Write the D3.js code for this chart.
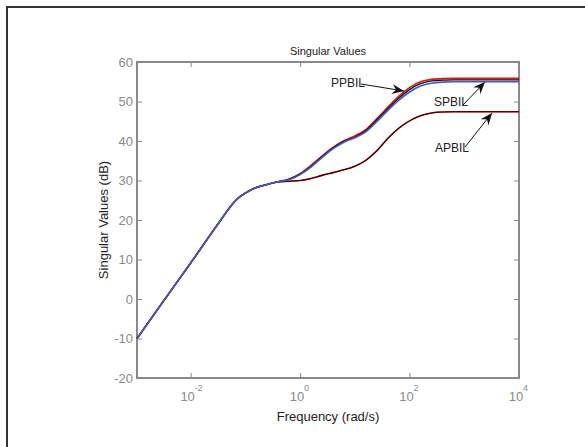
<!DOCTYPE html>
<html><head><meta charset="utf-8">
<script src="https://cdn.jsdelivr.net/npm/d3@7"></script>
<style>
body{margin:0;background:#fff;}
text{font-family:"Liberation Sans Narrow","Arial Narrow","Liberation Sans",Arial,sans-serif;}
</style></head>
<body><svg id="c" width="585" height="447"></svg>
<script>
// log10 of frequency (rad/s)
const logFreq = [-2.98,-2.5,-2.0,-1.5,-1.2,-1.1,-1.0,-0.9,-0.8,-0.6,-0.4,-0.2,0,0.2,0.4,0.6,0.8,1.0,1.2,1.4,1.6,1.8,2.0,2.2,2.4,2.6,2.8,3.0,3.5,4.0];
const originalUpper = [-10,-0.6,9.1,19.0,24.6,25.9,26.8,27.6,28.2,29.0,29.7,30.3,31.6,33.6,36.0,38.2,39.9,41.0,42.6,45.3,48.1,50.8,53.0,54.5,55.2,55.4,55.5,55.5,55.5,55.5];
const ppbil = [-10,-0.6,9.1,19.0,24.6,25.9,26.8,27.6,28.2,29.0,29.7,30.4,31.7,33.8,36.2,38.4,40.1,41.3,42.9,45.6,48.5,51.3,53.5,55.0,55.6,55.8,55.85,55.85,55.85,55.85];
const spbil = [-10,-0.6,9.1,19.0,24.6,25.9,26.8,27.6,28.2,29.0,29.7,30.2,31.5,33.4,35.8,38.0,39.7,40.8,42.3,44.9,47.7,50.3,52.4,53.9,54.6,54.9,55.0,55.0,55.0,55.0];
const apbil = [-10,-0.6,9.1,19.0,24.6,25.9,26.8,27.6,28.2,29.0,29.6,29.8,30.0,30.5,31.3,32.0,32.7,33.6,35.1,37.5,40.6,43.2,45.1,46.4,47.1,47.35,47.4,47.4,47.4,47.4];
const yTicks = [-20,-10,0,10,20,30,40,50,60];
const xTickExp = [-2,0,2,4];
const annotations = [
  {label:"PPBIL", tx:331, ty:87, x1:361, y1:84, x2:404, y2:91},
  {label:"SPBIL", tx:434, ty:106, x1:463, y1:105, x2:485, y2:82},
  {label:"APBIL", tx:435, ty:152, x1:465, y1:147, x2:492, y2:113}
];

const svg = d3.select("#c");
// outer frame
svg.append("rect").attr("x",7).attr("y",7).attr("width",640).attr("height",500)
  .attr("fill","none").attr("stroke","#333").attr("stroke-width",2);

const L=137,R=519,T=62,B=378;
const x = d3.scaleLog().domain([Math.pow(10,-2.98),1e4]).range([L,R]);
const y = d3.scaleLinear().domain([-20,60]).range([B,T]);
const axisCol="#8a8a8a";

function styleAxis(g){
  g.select(".domain").remove();
  g.selectAll(".tick line").attr("stroke",axisCol).attr("stroke-width",1);
  g.selectAll(".tick text").attr("fill","#8a8a8a").attr("font-size",13);
}
svg.append("g").attr("transform",`translate(${L},0)`)
  .call(d3.axisLeft(y).tickValues(yTicks).tickSize(-5).tickPadding(4).tickFormat(d=>String(d))).call(styleAxis);
svg.append("g").attr("transform",`translate(${R},0)`)
  .call(d3.axisRight(y).tickValues(yTicks).tickSize(-5).tickFormat("")).call(styleAxis);
const xTickVals = xTickExp.map(e=>Math.pow(10,e));
svg.append("g").attr("transform",`translate(0,${B})`)
  .call(d3.axisBottom(x).tickValues(xTickVals).tickSize(-5).tickFormat("")).call(styleAxis);
svg.append("g").attr("transform",`translate(0,${T})`)
  .call(d3.axisTop(x).tickValues(xTickVals).tickSize(-5).tickFormat("")).call(styleAxis);
// box
svg.append("rect").attr("x",L).attr("y",T).attr("width",R-L).attr("height",B-T)
  .attr("fill","none").attr("stroke",axisCol).attr("stroke-width",2);

// x tick labels with superscripts
const xl = svg.append("g");
xTickExp.forEach(e=>{
  xl.append("text").attr("x",x(Math.pow(10,e))-3).attr("y",401)
    .attr("text-anchor","middle").attr("fill","#8a8a8a").attr("font-size",13).text("10");
  xl.append("text").attr("x",x(Math.pow(10,e))+4).attr("y",391)
    .attr("fill","#8a8a8a").attr("font-size",9).text(String(e));
});

// titles
svg.append("text").attr("x",(L+R)/2).attr("y",55).attr("text-anchor","middle")
  .attr("font-size",11).attr("fill","#222").text("Singular Values");
svg.append("text").attr("x",(L+R)/2).attr("y",421).attr("text-anchor","middle")
  .attr("font-size",13).attr("fill","#222").text("Frequency (rad/s)");
svg.append("text").attr("transform",`translate(108,${(T+B)/2}) rotate(-90)`).attr("text-anchor","middle")
  .attr("font-size",13).attr("fill","#222").text("Singular Values (dB)");

// curves
const line = vals => d3.line().curve(d3.curveMonotoneX)
  .x((d,i)=>x(Math.pow(10,logFreq[i]))).y(d=>y(d))(vals);
const curves = [
  {v:apbil,c:"#e8101a",w:1.6},
  {v:apbil,c:"#1a0505",w:1.1},
  {v:ppbil,c:"#e8101a",w:1.6},
  {v:originalUpper,c:"#111",w:1.3},
  {v:spbil,c:"#3a5fc4",w:1.6}
];
curves.forEach(s=>svg.append("path").attr("d",line(s.v)).attr("fill","none")
  .attr("stroke",s.c).attr("stroke-width",s.w));

// annotations
svg.append("defs").append("marker").attr("id","ah").attr("markerUnits","userSpaceOnUse")
  .attr("viewBox","-12 -6 13 12").attr("refX",0).attr("refY",0)
  .attr("markerWidth",13).attr("markerHeight",12).attr("orient","auto")
  .append("path").attr("d","M0,0 L-12,-5 L-8,0 L-12,5 Z").attr("fill","#111");
annotations.forEach(a=>{
  svg.append("line").attr("x1",a.x1).attr("y1",a.y1).attr("x2",a.x2).attr("y2",a.y2)
    .attr("stroke","#111").attr("stroke-width",1).attr("marker-end","url(#ah)");
  svg.append("text").attr("x",a.tx).attr("y",a.ty).attr("font-size",12).attr("fill","#222").text(a.label);
});
</script></body></html>
